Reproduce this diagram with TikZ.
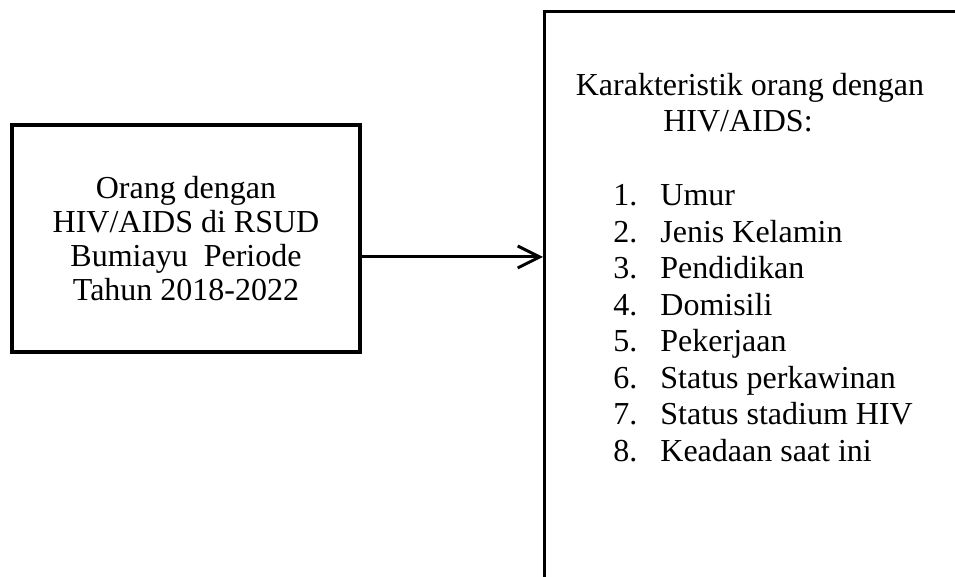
\documentclass[tikz,border=0pt]{standalone}
\usepackage{fontspec}
\setmainfont{Liberation Serif}
\usetikzlibrary{arrows.meta,positioning}

\tikzset{
  kotak/.style={draw=black,line width=1.6pt,inner sep=0pt},
  teks/.style={font=\fontsize{16}{17}\selectfont,inner sep=0pt},
  panah/.style={line width=1.5pt,-{Straight Barb[length=11pt,width=11pt]}},
}

\begin{document}
\begin{tikzpicture}[x=0.5pt,y=-0.5pt]
\useasboundingbox (0,0) rectangle (955,577);
\clip (0,0) rectangle (955,577);

% Left box: the population
\node[kotak,teks,align=center,minimum width=174pt,minimum height=113.5pt] (odha) at (186,238.5)
  {Orang dengan\\HIV/AIDS di RSUD\\Bumiayu\ \ Periode\\Tahun 2018-2022};

% Right box: runs past the page edges
\node[kotak,anchor=north west,minimum width=220pt,minimum height=310pt] (karak) at (543,10) {};

% Title of the right box
\node[teks,anchor=base] (judul1) at (750,96) {Karakteristik orang dengan};
\node[teks,anchor=base] (judul2) at (738,132) {HIV/AIDS:};

% The list of characteristics
\foreach \i/\isi in {1/Umur,2/Jenis Kelamin,3/Pendidikan,4/Domisili,
                     5/Pekerjaan,6/Status perkawinan,7/Status stadium HIV,
                     8/Keadaan saat ini}{
  \node[teks,anchor=base west] (no\i) at (613,{206+36.5*(\i-1)}) {\i.};
  \node[teks,anchor=base west] (isi\i) at (660,{206+36.5*(\i-1)}) {\isi};
}

% Arrow between the boxes
\coordinate (pangkal) at ([yshift=-9.25pt]odha.east);
\draw[panah] (pangkal) -- (pangkal -| karak.west);

\end{tikzpicture}
\end{document}
